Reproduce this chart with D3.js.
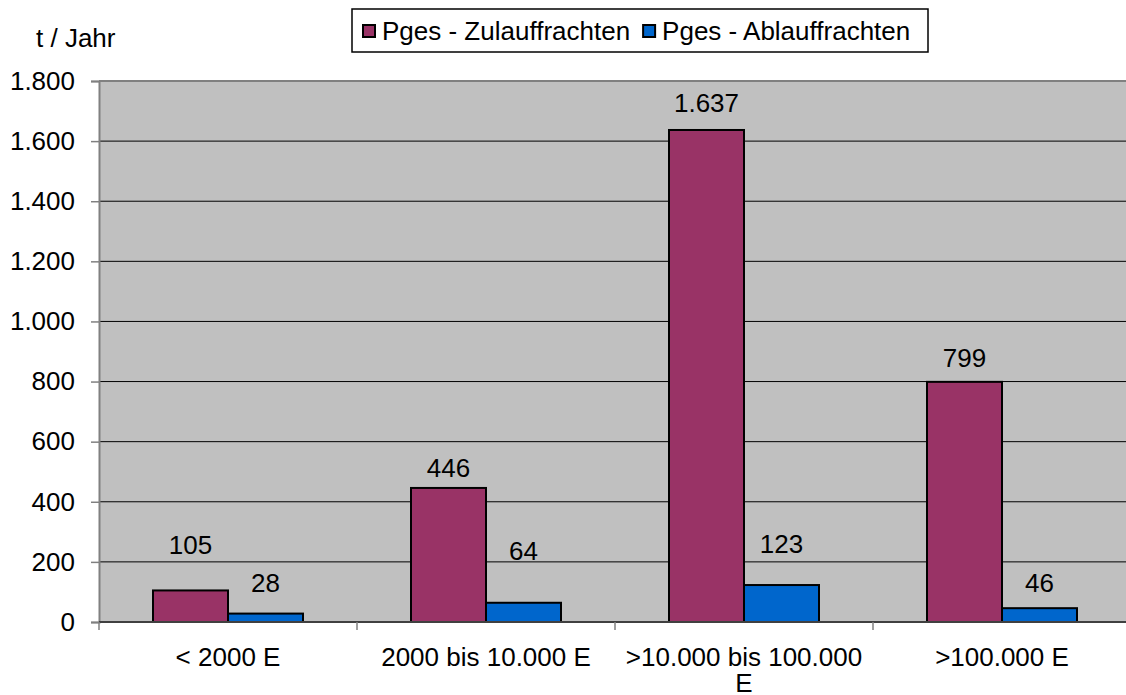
<!DOCTYPE html>
<html><head><meta charset="utf-8">
<script src="https://cdn.jsdelivr.net/npm/d3@7"></script>
<style>body{margin:0;background:#fff}svg{display:block}text{font-family:"Liberation Sans",Arial,sans-serif;fill:#000}</style>
</head><body><svg id="c" width="1126" height="695"></svg>
<script>
const categories = ["< 2000 E", "2000 bis 10.000 E", ">10.000 bis 100.000 E", ">100.000 E"];
const seriesNames = ["Pges - Zulauffrachten", "Pges - Ablauffrachten"];
const zulauf = [105, 446, 1637, 799];
const ablauf = [28, 64, 123, 46];
const yTicks = [0, 200, 400, 600, 800, 1000, 1200, 1400, 1600, 1800];
const colors = ["#993366", "#0066CC"];
// label positions (in axis units) as Excel placed them
const labelPosZ = [256, 512, 1726, 878];
const labelPosA = [130, 236, 260, 130];

const fmt = v => v.toLocaleString("de-DE");
const svg = d3.select("#c");
const L = 99, R = 1131, T = 81, B = 622;
const x = d3.scaleBand().domain(categories).range([L, R]);
const y = d3.scaleLinear().domain([0, 1800]).range([B, T]);
const FS = 26;

svg.append("rect").attr("x", L).attr("y", T).attr("width", R - L).attr("height", B - T).attr("fill", "#C0C0C0");
svg.append("g").selectAll("line").data(yTicks.filter(d => d > 0)).join("line")
  .attr("x1", L).attr("x2", R).attr("y1", d => y(d)).attr("y2", d => y(d))
  .attr("stroke", d => d === 1800 ? "#808080" : "#000").attr("stroke-width", d => d === 1800 ? 2 : 1);

const yAxis = d3.axisLeft(y).tickValues(yTicks).tickFormat(fmt).tickSize(8).tickPadding(16);
const gy = svg.append("g").attr("transform", `translate(${L},0)`).call(yAxis);
gy.select(".domain").attr("stroke", "#808080").attr("stroke-width", 2);
gy.selectAll(".tick line").attr("stroke", "#808080").attr("stroke-width", 1.5);
gy.selectAll("text").style("font-size", FS + "px").attr("fill", "#000").attr("font-family", null);

const series = [zulauf, ablauf];
const bw = 75;
series.forEach((vals, si) => {
  svg.append("g").selectAll("rect").data(categories).join("rect")
    .attr("x", (c) => x(c) + x.bandwidth() / 2 - bw + si * bw)
    .attr("y", (c, i) => y(vals[i]))
    .attr("width", bw).attr("height", (c, i) => B - y(vals[i]))
    .attr("fill", colors[si]).attr("stroke", "#000").attr("stroke-width", 2);
});
[[zulauf, labelPosZ], [ablauf, labelPosA]].forEach(([vals, pos], si) => {
  svg.append("g").selectAll("text").data(categories).join("text")
    .attr("x", c => x(c) + x.bandwidth() / 2 - bw / 2 + si * bw)
    .attr("y", (c, i) => y(pos[i]))
    .attr("dy", "0.35em").attr("text-anchor", "middle").style("font-size", FS + "px")
    .text((c, i) => fmt(vals[i]));
});

// x axis
svg.append("line").attr("x1", L).attr("x2", R).attr("y1", B).attr("y2", B).attr("stroke", "#404040").attr("stroke-width", 2);
const bounds = categories.map(c => x(c)).concat([R]);
svg.append("g").selectAll("line").data(bounds).join("line")
  .attr("x1", d => d).attr("x2", d => d).attr("y1", B).attr("y2", B + 8).attr("stroke", "#808080").attr("stroke-width", 1.5);
const xl = svg.append("g").selectAll("text").data(categories).join("text")
  .attr("x", c => x(c) + x.bandwidth() / 2).attr("y", 657)
  .attr("text-anchor", "middle").style("font-size", FS + "px");
xl.each(function (c) {
  const t = d3.select(this);
  const lines = c === ">10.000 bis 100.000 E" ? [">10.000 bis 100.000", "E"] : [c];
  lines.forEach((ln, k) => t.append("tspan").attr("x", x(c) + x.bandwidth() / 2).attr("dy", k === 0 ? "0.35em" : "1.0em").text(ln));
});

svg.append("text").attr("x", 36).attr("y", 38).attr("dy", "0.35em").style("font-size", FS + "px").text("t / Jahr");

// legend
const lg = svg.append("g");
lg.append("rect").attr("x", 352).attr("y", 9).attr("width", 576).attr("height", 43).attr("fill", "#fff").attr("stroke", "#000").attr("stroke-width", 1.5);
let lx = 363;
seriesNames.forEach((n, i) => {
  lg.append("rect").attr("x", lx).attr("y", 25).attr("width", 12).attr("height", 12).attr("fill", colors[i]).attr("stroke", "#000").attr("stroke-width", 2);
  const t = lg.append("text").attr("x", lx + 19).attr("y", 31).attr("dy", "0.35em").style("font-size", FS + "px").text(n);
  lx += 19 + t.node().getComputedTextLength() + 13;
});
</script></body></html>
